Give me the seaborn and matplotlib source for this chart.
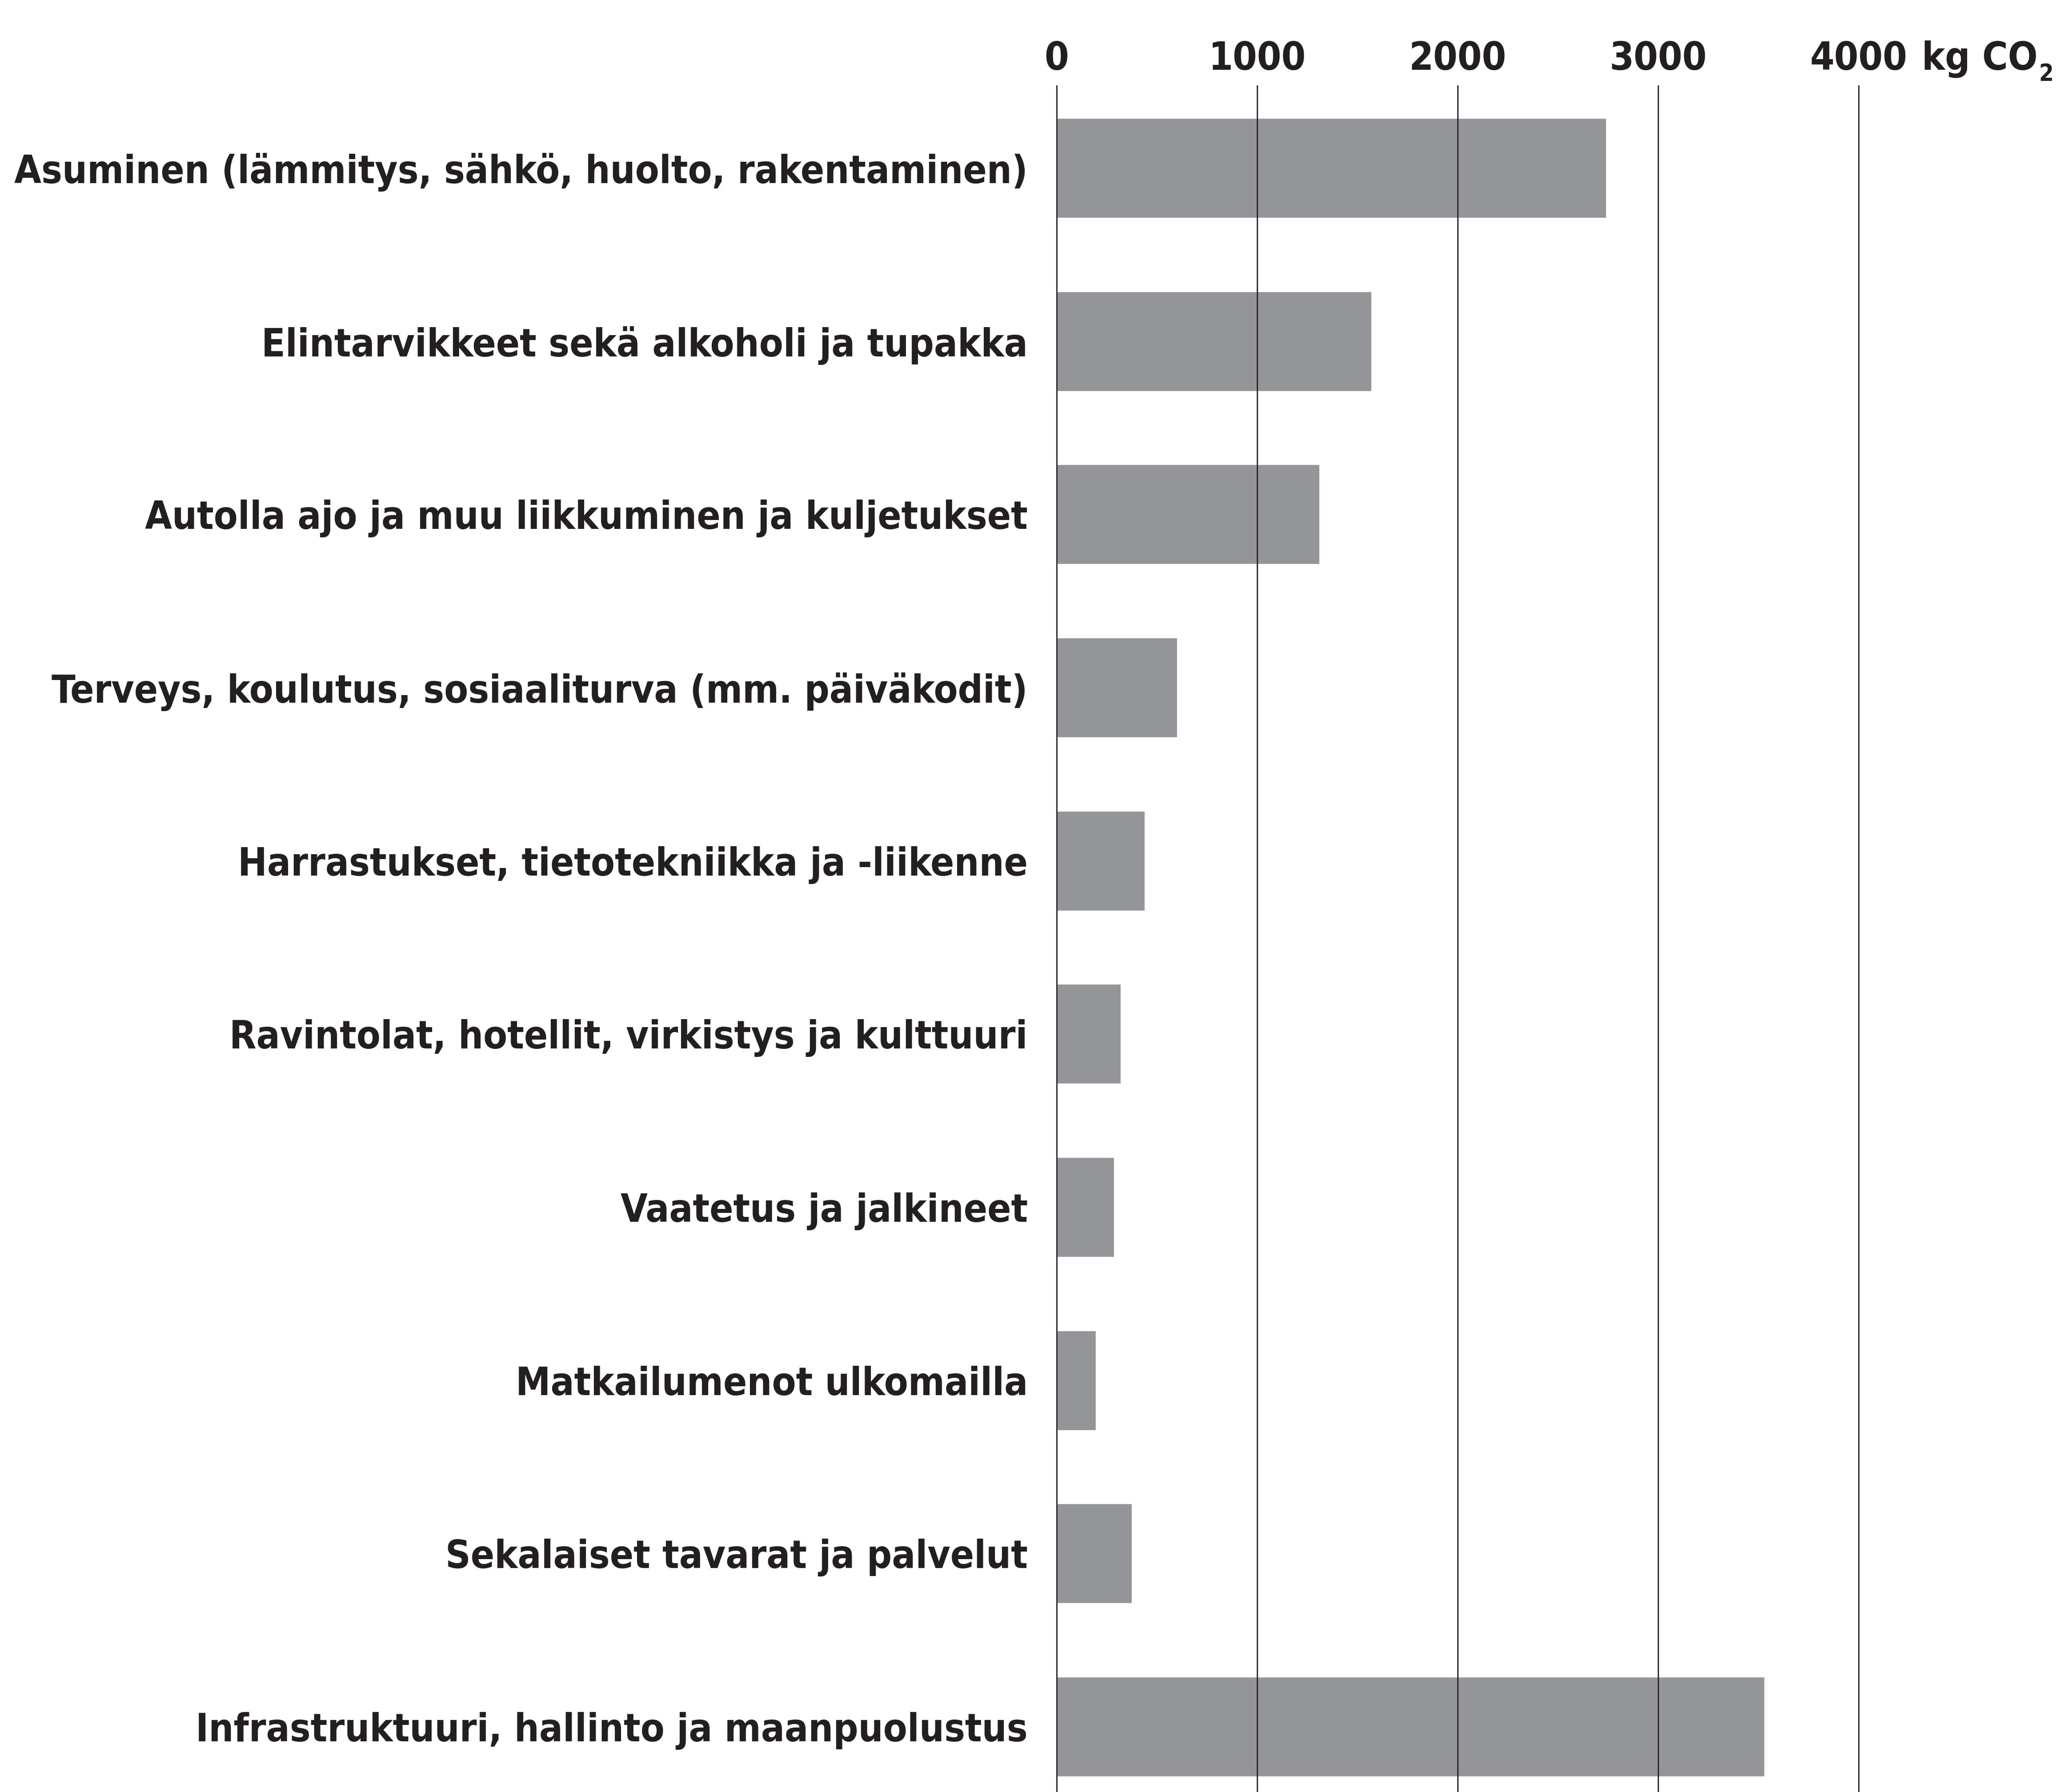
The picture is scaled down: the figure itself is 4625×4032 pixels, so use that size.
import matplotlib
matplotlib.use('Agg')
import matplotlib.pyplot as plt
import matplotlib.font_manager as fm
import seaborn as sns
import pandas as pd

# --- Data ---
categories = [
    'Asuminen (lämmitys, sähkö, huolto, rakentaminen)',
    'Elintarvikkeet sekä alkoholi ja tupakka',
    'Autolla ajo ja muu liikkuminen ja kuljetukset',
    'Terveys, koulutus, sosiaaliturva (mm. päiväkodit)',
    'Harrastukset, tietotekniikka ja -liikenne',
    'Ravintolat, hotellit, virkistys ja kulttuuri',
    'Vaatetus ja jalkineet',
    'Matkailumenot ulkomailla',
    'Sekalaiset tavarat ja palvelut',
    'Infrastruktuuri, hallinto ja maanpuolustus',
]
values = [2740, 1570, 1310, 600, 440, 320, 285, 195, 375, 3530]
tick_values = [0, 1000, 2000, 3000, 4000]
unit_label = 'kg CO'
unit_sub = '2'

BAR_COLOR = '#949599'
INK = '#231f20'

sns.set_theme(style='white')


def pick_font():
    """Find the narrowest bold upright sans font that is installed."""
    best, best_score = None, None
    for f in fm.fontManager.ttflist:
        name = f.name.lower()
        if 'mono' in name or 'serif' in name and 'sans' not in name:
            continue
        if f.style != 'normal':
            continue
        w = f.weight if isinstance(f.weight, int) else fm.weight_dict.get(f.weight, 400)
        s = f.stretch if isinstance(f.stretch, int) else fm.stretch_dict.get(f.stretch, 500)
        if 'narrow' in name or 'condensed' in name:
            s = min(s, 400)
        if w < 600 or w > 800:
            continue
        if 'cjk' in name or 'math' in name:
            continue
        score = (s, abs(w - 700))
        if best_score is None or score < best_score:
            best, best_score = f, score
    if best is not None and best_score[0] < 500:
        return fm.FontProperties(fname=best.fname)
    return fm.FontProperties(family='Liberation Sans', weight='bold')


base_fp = pick_font()

df = pd.DataFrame({'category': categories, 'value': values})

W, H, DPI = 4625, 4032, 100
fig = plt.figure(figsize=(W / DPI, H / DPI), dpi=DPI)
px_per_unit = 451 / 1000
x0_px = 2377
xmin = -15
left_px = x0_px + xmin * px_per_unit
xmax = xmin + (W - left_px) / px_per_unit
ax = fig.add_axes([left_px / W, 0.0, 1 - left_px / W, 1 - 192 / H])

sns.barplot(data=df, x='value', y='category', orient='h', color=BAR_COLOR,
            saturation=1, width=0.575, ax=ax, zorder=1)

ax.set_xlim(xmin, xmax)
ax.set_ylim(9.377, -0.477)
ax.set_xlabel('')
ax.set_ylabel('')
ax.xaxis.tick_top()
ax.set_xticks(tick_values)
ax.set_xticklabels([str(v) for v in tick_values])
ax.tick_params(axis='x', length=0, pad=12)
ax.tick_params(axis='y', length=0, pad=42)
ax.set_axisbelow(False)
ax.grid(axis='x', color=INK, linewidth=2)
ax.grid(axis='y', visible=False)
for sp in ax.spines.values():
    sp.set_visible(False)

# size the font so the longest label fits in the left margin
fp = base_fp.copy()
fp.set_size(82)
for lab in ax.get_yticklabels() + ax.get_xticklabels():
    lab.set_fontproperties(fp)
    lab.set_color(INK)
fig.canvas.draw()
renderer = fig.canvas.get_renderer()
widest = max(l.get_window_extent(renderer).width for l in ax.get_yticklabels())
target = 2318 - 35
if widest > target:
    fp.set_size(82 * target / widest)
    for lab in ax.get_yticklabels() + ax.get_xticklabels():
        lab.set_fontproperties(fp)

# unit label at the top right, kept inside the right edge
unit_x = 4342
unit = fig.text(unit_x / W, 1 - 133 / H, unit_label, fontproperties=fp,
                color=INK, ha='left', va='center')
sub_fp = fp.copy()
sub_fp.set_size(fp.get_size() * 0.6)
fig.canvas.draw()
r = fig.canvas.get_renderer()
bb = unit.get_window_extent(r)
sub = fig.text((bb.x1 + 2) / W, (bb.y0 + 8) / H, unit_sub, fontproperties=sub_fp,
               color=INK, ha='left', va='center')
sb = sub.get_window_extent(r)
overflow = sb.x1 - (W - 6)
if overflow > 0:
    unit.set_x((unit_x - overflow) / W)
    sub.set_x((bb.x1 + 2 - overflow) / W)

fig.savefig('out.png', dpi=DPI, facecolor='white')
